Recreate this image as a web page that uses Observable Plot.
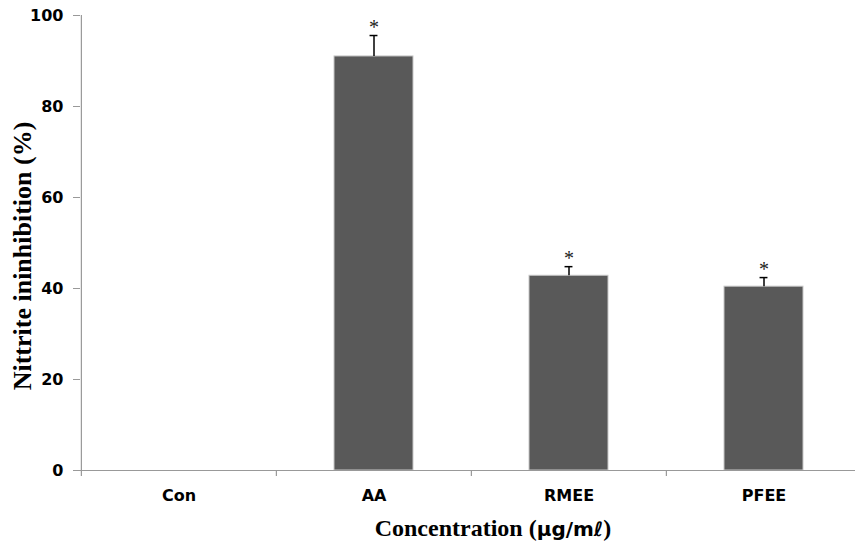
<!DOCTYPE html>
<html><head><meta charset="utf-8">
<script src="https://cdn.jsdelivr.net/npm/d3@7"></script>
<script src="https://cdn.jsdelivr.net/npm/@observablehq/plot@0.6"></script>
<style>
body{margin:0;background:#fff;}
#chart svg{display:block;}
</style>
</head><body><div id="chart"></div>
<script>
const categories = ["Con", "AA", "RMEE", "PFEE"];
const values = [0, 91.0, 42.8, 40.4];
const errors = [0, 4.6, 2.0, 2.0];
const stars = ["", "*", "*", "*"];
const yTicks = [0, 20, 40, 60, 80, 100];

const data = categories.map((c, i) => ({cat: c, v: values[i], e: errors[i], s: stars[i]}));
const withErr = data.filter(d => d.e > 0);

const W = 855, H = 545;
const xRange = [80, 861];
const step = (xRange[1] - xRange[0]) / categories.length;
const pInner = 0.595;
const tickFont = "DejaVu Sans";

const plot = Plot.plot({
  width: W, height: H,
  marginLeft: 80, marginRight: 0, marginTop: 15, marginBottom: 75,
  x: {domain: categories, range: xRange, paddingInner: pInner, paddingOuter: pInner / 2, axis: null},
  y: {domain: [0, 100], axis: null},
  style: {background: "#fff", overflow: "visible"},
  marks: [
    Plot.barY(data, {x: "cat", y: "v", fill: "#595959", stroke: "#c8c8c8", strokeWidth: 1}),
    Plot.ruleX(withErr, {x: "cat", y1: "v", y2: d => d.v + d.e, stroke: "#000", strokeWidth: 1.5}),
    Plot.tickY(withErr, {x: "cat", y: d => d.v + d.e, stroke: "#000", strokeWidth: 1.5,
      insetLeft: (step * (1 - pInner)) / 2 - 4, insetRight: (step * (1 - pInner)) / 2 - 4}),
    Plot.text(withErr, {x: "cat", y: d => d.v + d.e, text: "s", dy: -8, fontSize: 20,
      fontFamily: "Liberation Serif", fill: "#222"}),
    Plot.ruleY([0], {stroke: "#999", strokeWidth: 1.2}),
    Plot.ruleX(categories, {x: d => d, dx: -step / 2, y1: 0, y2: -1.3, stroke: "#999", strokeWidth: 1.2}),
    Plot.axisY({ticks: yTicks, tickSize: 7, tickPadding: 10, stroke: "#999", label: null,
      fontSize: 16, fontWeight: "bold", fontFamily: tickFont, fill: "#000"}),
    Plot.ruleX([0], {x: () => categories[0], dx: -step / 2, y1: 0, y2: 100, stroke: "#999", strokeWidth: 1.2}),
    Plot.axisX({tickSize: 0, tickPadding: 19, label: null, fontSize: 16, fontWeight: "bold",
      fontFamily: tickFont, fill: "#000"})
  ]
});

const svg = d3.select(plot);
// x axis title
const xt = svg.append("text")
  .attr("x", 493).attr("y", 536)
  .attr("text-anchor", "middle")
  .attr("font-family", "Liberation Serif").attr("font-weight", "bold").attr("font-size", 24)
  .attr("fill", "#000");
xt.append("tspan").text("Concentration (");
xt.append("tspan").attr("font-family", tickFont).attr("font-size", 20).text("μg/mℓ");
xt.append("tspan").text(")");
// y axis title
svg.append("text")
  .attr("transform", "translate(31,256) rotate(-90)")
  .attr("text-anchor", "middle")
  .attr("font-family", "Liberation Serif").attr("font-weight", "bold").attr("font-size", 26)
  .attr("fill", "#000")
  .text("Nittrite ininhibition (%)");

document.getElementById("chart").appendChild(plot);
</script>
</body></html>
